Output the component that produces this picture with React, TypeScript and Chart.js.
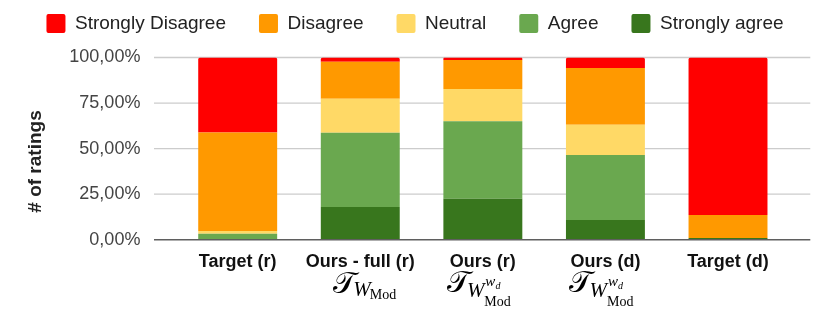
import React, { useEffect, useRef } from "react";
import { Chart, registerables } from "chart.js";

Chart.register(...registerables);

// ---- data ----
const categories = ["Target (r)", "Ours - full (r)", "Ours (r)", "Ours (d)", "Target (d)"];
const seriesNames = ["Strongly agree", "Agree", "Neutral", "Disagree", "Strongly Disagree"];
const stronglyAgree = [0, 17.9, 22.5, 10.8, 1.0];
const agree = [3.3, 40.8, 42.5, 35.7, 0];
const neutral = [1.5, 18.7, 17.7, 16.6, 0];
const disagree = [54.1, 20.3, 15.9, 31.1, 12.6];
const stronglyDisagree = [41.1, 2.3, 1.4, 5.8, 86.4];
const yTicks = [0, 25, 50, 75, 100];
const yTitle = "# of ratings";
// math annotation under some categories (𝒯 with subscript W_Mod, optional superscript w_d on W)
const mathLabels: (null | { sup: string | null })[] = [null, { sup: null }, { sup: "w_d" }, { sup: "w_d" }, null];

const colors = ["#38761d", "#6aa84f", "#ffd966", "#ff9900", "#ff0000"];

const CANVAS_W = 814;
const CANVAS_H = 340;
const LEGEND_H = 76.5;

const extendedGrid = {
  id: "extendedGrid",
  beforeDatasetsDraw(chart: any) {
    const { ctx, chartArea, scales } = chart;
    const y = scales.y;
    ctx.save();
    ctx.strokeStyle = "#cccccc";
    ctx.lineWidth = 1.3;
    yTicks.forEach((v) => {
      if (v === 0) return;
      const py = y.getPixelForValue(v);
      ctx.beginPath();
      ctx.moveTo(chartArea.left - 22.4, py);
      ctx.lineTo(chartArea.right + 21, py);
      ctx.stroke();
    });
    ctx.restore();
  },
  afterDatasetsDraw(chart: any) {
    const { ctx, chartArea, scales } = chart;
    const py = scales.y.getPixelForValue(0);
    ctx.save();
    ctx.strokeStyle = "#5f5f5f";
    ctx.lineWidth = 1.6;
    ctx.beginPath();
    ctx.moveTo(chartArea.left - 22.4, py);
    ctx.lineTo(chartArea.right + 21, py);
    ctx.stroke();
    ctx.restore();
  },
};

const legendFit = {
  id: "legendFit",
  beforeLayout(chart: any) {
    const lg = chart.legend;
    if (lg && !lg._patched) {
      const orig = lg.fit;
      lg.fit = function () {
        orig.call(this);
        this.height = LEGEND_H;
      };
      lg._patched = true;
    }
  },
};

const annotations = {
  id: "annotations",
  afterDraw(chart: any) {
    const { ctx, scales } = chart;
    ctx.save();
    // y axis title
    ctx.save();
    ctx.translate(28, 180.5);
    ctx.rotate(-Math.PI / 2);
    ctx.font = "bold 19px 'Liberation Sans', Arial, sans-serif";
    ctx.fillStyle = "#222";
    ctx.textAlign = "center";
    ctx.textBaseline = "middle";
    ctx.fillText(yTitle, 0, 0);
    ctx.restore();

    ctx.fillStyle = "#000";
    ctx.textBaseline = "alphabetic";
    ctx.textAlign = "left";
    const fT = "30px 'DejaVu Serif', 'DejaVu Sans', serif";
    const fW = "italic 21px 'Liberation Serif', serif";
    const fMod = "14px 'Liberation Serif', serif";
    const fw = "italic 15px 'Liberation Serif', serif";
    const fd = "italic 10px 'Liberation Serif', serif";
    mathLabels.forEach((m, i) => {
      if (!m) return;
      const cx = scales.x.getPixelForValue(i) + (m.sup ? -4 : 5);
      ctx.font = fT;
      const wT = ctx.measureText("𝒯").width;
      ctx.font = fW;
      const wW = ctx.measureText("W").width;
      ctx.font = fMod;
      const wMod = ctx.measureText("Mod").width;
      let wSup = 0;
      if (m.sup) {
        ctx.font = fw;
        wSup = ctx.measureText("w").width;
        ctx.font = fd;
        wSup += ctx.measureText("d").width;
      }
      const total = wT - 3 + wW + Math.max(wMod, wSup);
      let x = cx - total / 2;
      const base = m.sup ? 311 : 312;
      ctx.font = fT;
      ctx.fillText("𝒯", x, base);
      x += wT - 3;
      ctx.font = fW;
      const wBase = m.sup ? base + 5 : base + 3;
      ctx.fillText("W", x, wBase);
      x += wW;
      if (m.sup) {
        ctx.font = fw;
        ctx.fillText("w", x + 1, base - 6);
        const ww = ctx.measureText("w").width;
        ctx.font = fd;
        ctx.fillText("d", x + 1 + ww, base - 3);
        ctx.font = fMod;
        ctx.fillText("Mod", x, base + 14);
      } else {
        ctx.font = fMod;
        ctx.fillText("Mod", x - 1, wBase + 3);
      }
    });
    ctx.restore();
  },
};

export default function App() {
  const ref = useRef<HTMLCanvasElement | null>(null);
  useEffect(() => {
    if (!ref.current) return;
    const series = [stronglyAgree, agree, neutral, disagree, stronglyDisagree];
    const chart = new Chart(ref.current, {
      type: "bar",
      data: {
        labels: categories,
        datasets: series.map((d, i) => ({
          label: seriesNames[i],
          data: d,
          backgroundColor: colors[i],
          borderWidth: 0,
          borderRadius: 2,
          barPercentage: 0.644,
          categoryPercentage: 1,
        })),
      },
      options: {
        animation: false,
        responsive: true,
        maintainAspectRatio: false,
        layout: { padding: 0 },
        plugins: {
          legend: {
            position: "top",
            reverse: true,
            labels: {
              boxWidth: 19,
              boxHeight: 19,
              padding: 33,
              useBorderRadius: true,
              borderRadius: 2,
              color: "#222",
              font: { size: 19, family: "'Liberation Sans', Arial, sans-serif" },
            },
          },
          tooltip: { enabled: false },
        },
        scales: {
          x: {
            stacked: true,
            grid: { display: false, drawTicks: false },
            border: { display: false },
            ticks: {
              color: "#111",
              padding: 12,
              maxRotation: 0,
              autoSkip: false,
              font: { size: 18, weight: "bold", family: "'Liberation Sans', Arial, sans-serif" },
            },
            afterFit(s: any) {
              s.height = CANVAS_H - 258.7;
            },
          },
          y: {
            stacked: true,
            min: 0,
            max: 100,
            grid: { display: false, drawTicks: false },
            border: { display: false },
            ticks: {
              stepSize: 25,
              padding: 36,
              color: "#444",
              font: { size: 18, family: "'Liberation Sans', Arial, sans-serif" },
              callback: (v: any) => Number(v).toFixed(2).replace(".", ",") + "%",
            },
            afterFit(s: any) {
              s.width = 168.4;
            },
          },
          yR: {
            position: "right",
            display: true,
            grid: { display: false, drawTicks: false },
            border: { display: false },
            ticks: { display: false },
            afterFit(s: any) {
              s.width = 32.7;
            },
          },
        },
      },
      plugins: [legendFit, extendedGrid, annotations],
    });
    return () => chart.destroy();
  }, []);
  return (
    <div style={{ position: "absolute", left: 8, top: -19, width: CANVAS_W, height: CANVAS_H }}>
      <canvas ref={ref} />
    </div>
  );
}
